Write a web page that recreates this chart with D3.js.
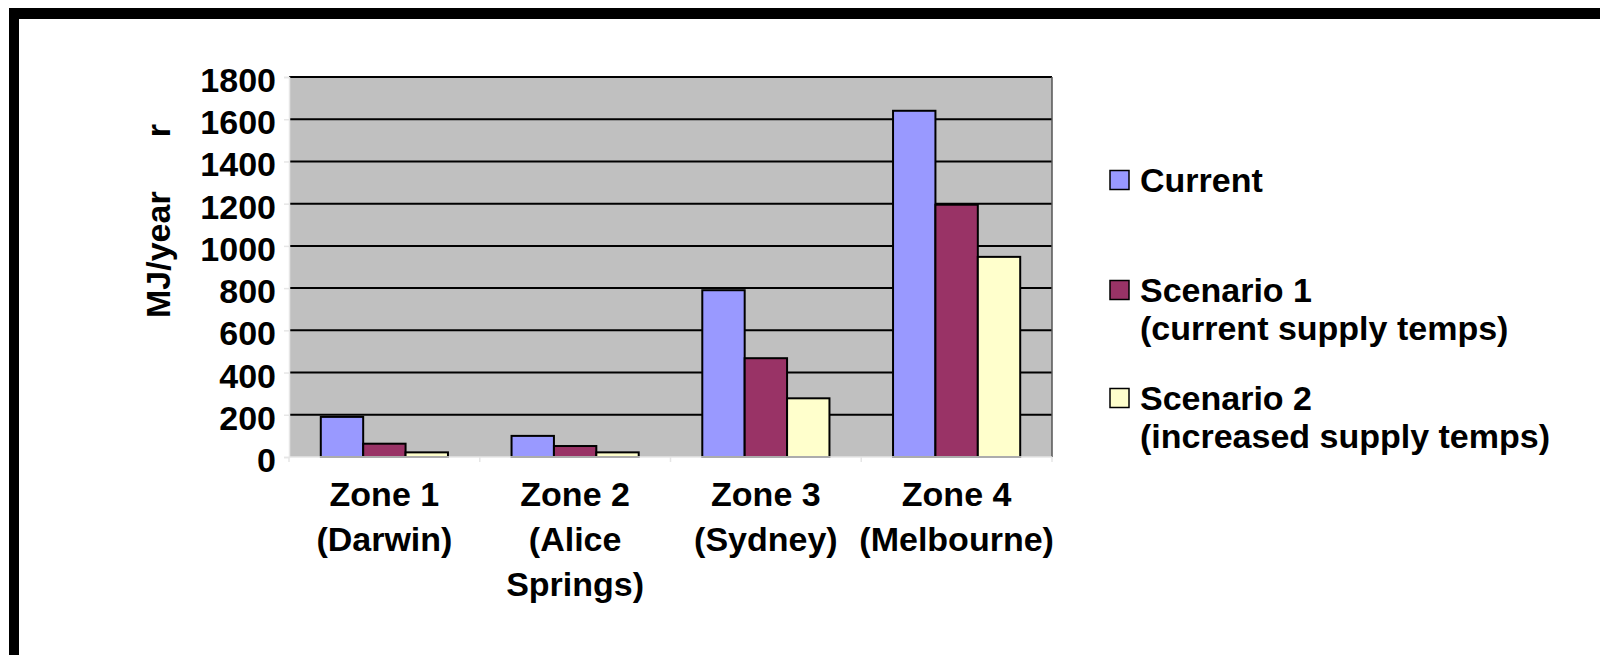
<!DOCTYPE html>
<html>
<head>
<meta charset="utf-8">
<script src="https://cdn.jsdelivr.net/npm/d3@7"></script>
<style>
  html, body { margin: 0; padding: 0; background: #fff; }
  svg { display: block; }
  text { font-family: "Liberation Sans", Arial, sans-serif; font-weight: bold; fill: #000; }
</style>
</head>
<body>
<svg id="chart" width="1600" height="655"></svg>
<script>
// Heating energy by climate zone, MJ/year
const categories = [
  ["Zone 1", "(Darwin)"],
  ["Zone 2", "(Alice", "Springs)"],
  ["Zone 3", "(Sydney)"],
  ["Zone 4", "(Melbourne)"]
];
const seriesNames = ["Current", "Scenario 1", "Scenario 2"];
const seriesNotes = ["", "(current supply temps)", "(increased supply temps)"];
const seriesColors = ["#9999FF", "#993366", "#FFFFCC"];
const currentValues = [190, 100, 790, 1640];
const scenario1Values = [63, 52, 468, 1195];
const scenario2Values = [22, 22, 278, 948];
const yTicks = [0, 200, 400, 600, 800, 1000, 1200, 1400, 1600, 1800];

const seriesValues = [currentValues, scenario1Values, scenario2Values];
const catKeys = categories.map(c => c.join(" "));

const svg = d3.select("#chart");

// outer frame (top and left rules)
svg.append("rect").attr("x", 9).attr("y", 8).attr("width", 1591).attr("height", 11).attr("fill", "#000");
svg.append("rect").attr("x", 9).attr("y", 8).attr("width", 10).attr("height", 647).attr("fill", "#000");

const plot = { left: 289, right: 1052, top: 77, bottom: 457 };

const x = d3.scaleBand().domain(catKeys).range([plot.left, plot.right]).paddingInner(0).paddingOuter(0);
const xs = d3.scaleBand().domain(seriesNames).range([0, x.bandwidth()]).paddingInner(0).paddingOuter(0.75);
const y = d3.scaleLinear().domain([0, 1800]).range([plot.bottom, plot.top]);

// plot background
svg.append("rect")
  .attr("x", plot.left).attr("y", plot.top)
  .attr("width", plot.right - plot.left).attr("height", plot.bottom - plot.top)
  .attr("fill", "#C0C0C0");

// horizontal gridlines
svg.append("g").selectAll("line")
  .data(yTicks.filter(v => v > 0))
  .join("line")
  .attr("x1", plot.left).attr("x2", plot.right)
  .attr("y1", d => y(d)).attr("y2", d => y(d))
  .attr("stroke", "#000").attr("stroke-width", 2);

// right border of the plot area
svg.append("line")
  .attr("x1", plot.right).attr("x2", plot.right)
  .attr("y1", plot.top).attr("y2", plot.bottom)
  .attr("stroke", "#555").attr("stroke-width", 1.5);

// bars
const groups = svg.append("g").selectAll("g")
  .data(seriesNames)
  .join("g")
  .attr("fill", (d, i) => seriesColors[i]);

groups.selectAll("rect")
  .data((s, si) => seriesValues[si].map((v, ci) => ({ s, v, c: catKeys[ci] })))
  .join("rect")
  .attr("x", d => x(d.c) + xs(d.s))
  .attr("y", d => y(d.v))
  .attr("width", xs.bandwidth())
  .attr("height", d => y(0) - y(d.v))
  .attr("stroke", "#000").attr("stroke-width", 2);

// y axis
const yAxis = svg.append("g")
  .attr("transform", `translate(${plot.left},0)`)
  .call(d3.axisLeft(y).tickValues(yTicks).tickSize(5).tickPadding(8).tickFormat(d3.format("d")));
yAxis.select(".domain").attr("stroke", "#e6e6e6").attr("stroke-width", 1.5);
yAxis.selectAll(".tick line").attr("stroke", "#e6e6e6").attr("stroke-width", 1.5);
yAxis.selectAll(".tick text")
  .attr("font-size", 34).attr("font-family", "'Liberation Sans', Arial, sans-serif")
  .attr("font-weight", "bold").attr("fill", "#000")
  .attr("dy", 14.5);

// x axis line with category-boundary ticks
const xAxis = svg.append("g").attr("transform", `translate(0,${plot.bottom})`);
xAxis.append("line")
  .attr("x1", plot.left).attr("x2", plot.right)
  .attr("stroke", "#e6e6e6").attr("stroke-width", 1.5);
xAxis.selectAll("line.tk")
  .data(catKeys.map(k => x(k)).concat([plot.right]))
  .join("line").attr("class", "tk")
  .attr("x1", d => d).attr("x2", d => d).attr("y1", 0).attr("y2", 5)
  .attr("stroke", "#e6e6e6").attr("stroke-width", 1.5);

// category labels
const catLabels = svg.append("g").selectAll("text")
  .data(categories)
  .join("text")
  .attr("text-anchor", "middle")
  .attr("font-size", 34)
  .attr("x", (d, i) => x(catKeys[i]) + x.bandwidth() / 2)
  .attr("y", 506);
catLabels.selectAll("tspan")
  .data(d => d)
  .join("tspan")
  .attr("x", function () { return this.parentNode.getAttribute("x"); })
  .attr("dy", (d, i) => i === 0 ? 0 : 45)
  .text(d => d);

// y-axis title
const yTitle = svg.append("text")
  .attr("transform", "translate(170,318) rotate(-90)")
  .attr("font-size", 34)
  .attr("text-anchor", "start");
yTitle.append("tspan").text("MJ/year");
yTitle.append("tspan").attr("dx", 54).text("r");

// legend
const legendRows = [191.5, 301.5, 409.5];
const legend = svg.append("g").selectAll("g")
  .data(seriesNames)
  .join("g")
  .attr("transform", (d, i) => `translate(1110,${legendRows[i]})`);
legend.append("rect")
  .attr("x", 0).attr("y", -21).attr("width", 19).attr("height", 19)
  .attr("fill", (d, i) => seriesColors[i])
  .attr("stroke", "#000").attr("stroke-width", 1.5);
legend.append("text")
  .attr("x", 30).attr("y", 0).attr("font-size", 34)
  .text(d => d);
legend.append("text")
  .attr("x", 30).attr("y", 38).attr("font-size", 34)
  .text((d, i) => seriesNotes[i]);
</script>
</body>
</html>
